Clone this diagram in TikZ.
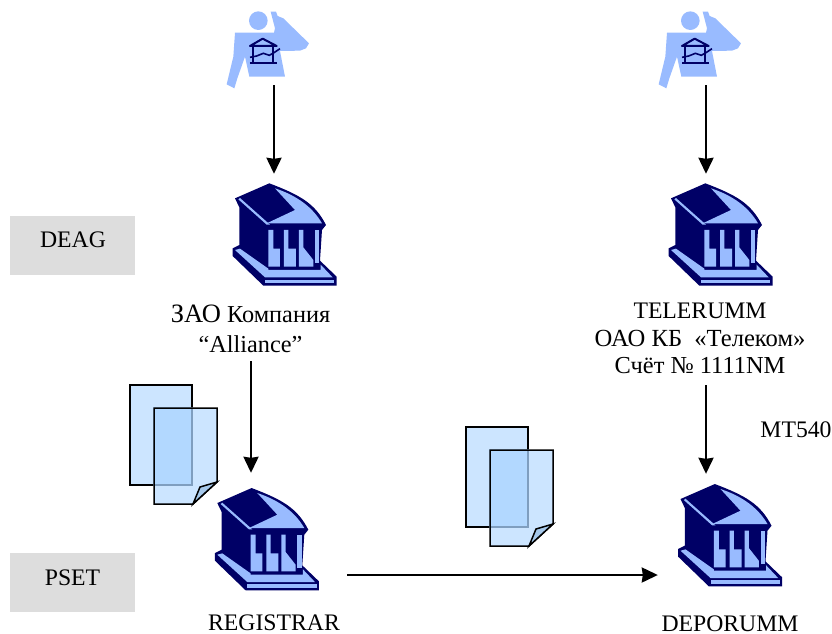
\documentclass[tikz,border=0pt]{standalone}
\usepackage{fontspec}
\setmainfont{Liberation Serif}
\usetikzlibrary{arrows.meta}
\definecolor{navyb}{RGB}{0,0,102}
\definecolor{lightb}{RGB}{153,187,255}
\definecolor{paleb}{RGB}{204,229,255}
\definecolor{overb}{RGB}{170,212,255}
\definecolor{foldb}{RGB}{165,200,235}
\definecolor{greyb}{RGB}{221,221,221}
\tikzset{
 lbl/.style={font=\fontsize{23.7}{28}\selectfont,inner sep=0pt,anchor=base},
 greybox/.style={fill=greyb,draw=none,minimum width=125pt,minimum height=59pt,inner sep=0pt},
 anchorbox/.style={draw=none,inner sep=0pt,minimum width=#1,minimum height=2pt},
 link/.style={line width=2.2pt,-{Stealth[length=16pt,width=15pt,inset=1pt]}},
 paperline/.style={draw=black,line width=1.5pt,line join=miter},
 bank/.pic={
  \begin{scope}[x=.3333pt,y=-.3333pt]
   \fill[navyb] (148,40) -- (45,85) -- (58,112) -- (58,225) -- (38,235) -- (38,258) -- (130,347) -- (350,347) -- (350,320) -- (300,272) -- (306,180) -- (318,165) .. controls (285,100) and (240,75) .. (148,40) -- cycle;
   \fill[lightb] (165,55) .. controls (235,78) and (280,115) .. (306,160) -- (140,160) -- (225,120) -- cycle;
   \fill[lightb] (55,88) -- (140,164) -- (150,164) -- (60,84) -- cycle;
   \fill[lightb] (145,180) -- (160,180) -- (160,236) -- (180,236) -- (180,290) -- (145,290) -- cycle;
   \fill[lightb] (192,180) -- (205,180) -- (205,236) -- (228,236) -- (228,290) -- (192,290) -- cycle;
   \fill[lightb] (237,180) -- (250,180) -- (250,232) -- (280,270) -- (280,290) -- (237,290) -- cycle;
   \fill[lightb] (285,180) -- (298,180) -- (298,280) -- (285,280) -- cycle;
   \fill[lightb] (45,240) -- (135,322) -- (338,322) -- (302,284) -- (302,300) -- (145,300) -- (145,296) -- (60,236) -- cycle;
   \fill[lightb] (135,329) -- (343,329) -- (343,340) -- (135,340) -- cycle;
  \end{scope}},
 person/.pic={
  \begin{scope}[x=.3333pt,y=-.3333pt]
   \fill[lightb] (175,62) circle (28);
   \fill[lightb] (212,35) -- (228,35) -- (233,48) -- (250,55) -- (327,130) -- (318,145) -- (300,152) -- (240,153) -- (255,230) -- (148,230) -- (135,170) -- (112,235) -- (103,265) -- (80,253) -- (100,170) -- (105,98) -- (222,98) -- (225,85) -- cycle;
   \draw[navyb,line width=2pt,line join=round] (150,138) -- (188,116) -- (230,138) -- cycle;
   \draw[navyb,line width=2pt] (158,138) -- (158,188) (220,138) -- (220,188) (150,188) -- (230,188);
   \draw[navyb,line width=1.6pt] (150,172) -- (170,168) -- (190,160) -- (208,166) -- (222,158) -- (240,146);
  \end{scope}},
 docpair/.pic={
  \begin{scope}[x=1pt,y=-1pt]
  \fill[paleb] (24,23) -- (87,23) -- (87,97) -- (63,119) -- (24,119) -- cycle;
  \fill[paleb] (0,0) rectangle (62,100);
  \draw[paperline] (0,0) rectangle (62,100);
  \fill[overb,opacity=.75] (23.2,22.2) rectangle (62.8,100.8);
  \draw[paperline] (24,23) -- (87,23) -- (87,97) -- (63,119) -- (24,119) -- cycle;
  \draw[paperline,fill=foldb] (87,97) -- (70,102) -- (63,119) -- cycle;
  \end{scope}
 }
}
\begin{document}
\begin{tikzpicture}[x=1pt,y=-1pt]
\useasboundingbox (0,0) rectangle (832,634);
\clip (0,0) rectangle (832,634);
\node[greybox] (deag) at (72.5,245) {};
\node[greybox] (pset) at (72.5,582.5) {};
\node[lbl] (deagt) at (73,247.3) {DEAG};
\node[lbl] (psett) at (72.5,585) {PSET};
\pic at (200,0) {person};
\pic at (632,0) {person};
\pic at (220,170) {bank};
\pic at (656,170) {bank};
\pic at (202.3,474.7) {bank};
\pic at (665.5,470.7) {bank};
\pic at (130,385) {docpair};
\pic at (466,427) {docpair};
\node[anchorbox=20pt] (p1) at (274,84) {};
\node[anchorbox=20pt] (p2) at (706,84) {};
\node[anchorbox=20pt] (b1) at (274,175) {};
\node[anchorbox=20pt] (b2) at (706,175) {};
\node[anchorbox=20pt] (b3) at (251,474) {};
\node[anchorbox=20pt] (b4) at (706,475) {};
\node[anchorbox=2pt,minimum height=20pt] (b3r) at (346,575) {};
\node[anchorbox=2pt,minimum height=20pt] (b4l) at (659,575) {};
\node[lbl,font=\fontsize{24.3}{28}\selectfont] (t1) at (250.5,322.7) {{\fontsize{26.5}{28}\selectfont ЗАО} Компания};
\node[lbl,font=\fontsize{24.3}{28}\selectfont] (t1b) at (250.5,352.5) {“Alliance”};
\node[lbl] (t2a) at (700,318) {TELERUMM};
\node[lbl,font=\fontsize{24.6}{28}\selectfont] (t2) at (700,346) {ОАО КБ\ \ «Телеком»};
\node[lbl,font=\fontsize{24.4}{28}\selectfont] (t2c) at (700,373) {Счёт № 1111NM};
\node[lbl] (mt) at (796,437) {MT540};
\node[lbl] (t3) at (274,630.5) {REGISTRAR};
\node[lbl] (t4) at (730,631) {DEPORUMM};
\coordinate (t1s) at (251,361);
\coordinate (t2s) at (706,385);
\draw[link] (p1) -- (b1);
\draw[link] (p2) -- (b2);
\draw[link] (t1s) -- (b3);
\draw[link] (t2s) -- (b4);
\draw[link] (b3r) -- (b4l);
\end{tikzpicture}
\end{document}
